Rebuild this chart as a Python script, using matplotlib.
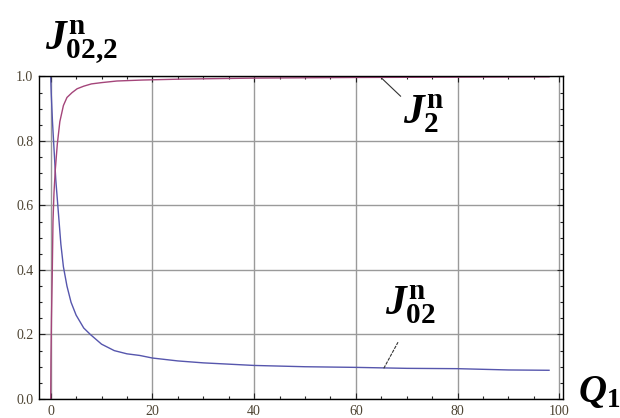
import numpy as np
import matplotlib
matplotlib.use("Agg")
import matplotlib.pyplot as plt
from matplotlib.ticker import MultipleLocator

plt.rcParams['mathtext.fontset'] = 'custom'
plt.rcParams['mathtext.rm'] = 'Liberation Serif:bold'
plt.rcParams['mathtext.it'] = 'Liberation Serif:bold:italic'
plt.rcParams['mathtext.bf'] = 'Liberation Serif:bold'

# values
q_j02 = [0, 0.1, 0.35, 0.6, 1.0, 1.4, 2.0, 2.5, 3.2, 4.0, 5.0, 6.5, 7.8, 10,
         12.5, 15, 17.5, 20, 25, 30, 35, 40, 50, 60, 70, 80, 90, 98]
j02 = [1.0, 0.95, 0.86, 0.79, 0.68, 0.6, 0.48, 0.41, 0.35, 0.30, 0.26, 0.22,
       0.20, 0.17, 0.15, 0.14, 0.135, 0.127, 0.118, 0.112, 0.108, 0.104, 0.1,
       0.098, 0.095, 0.094, 0.09, 0.089]

q_j2 = [0, 0.05, 0.15, 0.3, 0.45, 0.65, 0.9, 1.3, 1.8, 2.5, 3.2, 4.2, 5.2, 6.5,
        8, 10, 13, 18, 26, 40, 60, 80, 98]
j2 = [0, 0.12, 0.25, 0.38, 0.55, 0.64, 0.71, 0.79, 0.86, 0.91, 0.935, 0.95,
      0.962, 0.97, 0.977, 0.981, 0.986, 0.989, 0.992, 0.995, 0.997, 0.998, 0.999]

x_ticks = [0, 20, 40, 60, 80, 100]
y_ticks = [0.0, 0.2, 0.4, 0.6, 0.8, 1.0]

fig = plt.figure(figsize=(6.2, 4.18), dpi=100)
ax = fig.add_axes([0.0629, 0.0455, 0.8456, 0.7715])

ax.plot(q_j02, j02, color='#5656ad', lw=1.0, zorder=3)
ax.plot(q_j2, j2, color='#a4457a', lw=1.0, zorder=3)

ax.set_xlim(-2.3, 100.8)
ax.set_ylim(0, 1.0)
ax.set_xticks(x_ticks)
ax.set_yticks(y_ticks)
ax.set_xticklabels([str(v) for v in x_ticks])
ax.set_yticklabels(['%.1f' % v for v in y_ticks])
ax.xaxis.set_minor_locator(MultipleLocator(5))
ax.yaxis.set_minor_locator(MultipleLocator(0.05))
ax.tick_params(which='both', direction='in', top=True, right=True,
               colors='#222222', labelcolor='#4d4433', labelsize=10, width=0.8)
ax.tick_params(which='major', length=4, pad=4)
ax.tick_params(which='minor', length=2)
for lab in ax.get_xticklabels() + ax.get_yticklabels():
    lab.set_family('Liberation Serif')
ax.grid(True, which='major', color='#9a9a9a', lw=1.0, zorder=1)
for s in ax.spines.values():
    s.set_linewidth(1.0)
    s.set_zorder(4)

# annotation leader lines
ax.plot([65.2, 68.8], [0.993, 0.939], color='#333333', lw=0.8, zorder=5)
ax.plot([65.5, 68.3], [0.095, 0.176], color='#333333', lw=0.8, ls=(0, (3, 1)),
        zorder=5)

ax.text(69.3, 0.95, r'$J_{2}^{\mathrm{n}}$', fontsize=30, ha='left', va='top',
        zorder=6)
ax.text(65.8, 0.225, r'$J_{02}^{\mathrm{n}}$', fontsize=30, ha='left',
        va='bottom', zorder=6)
fig.text(0.072, 0.843, r'$J_{02{,}2}^{\mathrm{n}}$', fontsize=30, ha='left',
         va='bottom')
fig.text(0.932, 0.02, r'$Q_{1}$', fontsize=28, ha='left', va='bottom')

plt.savefig('out.png', dpi=100)
